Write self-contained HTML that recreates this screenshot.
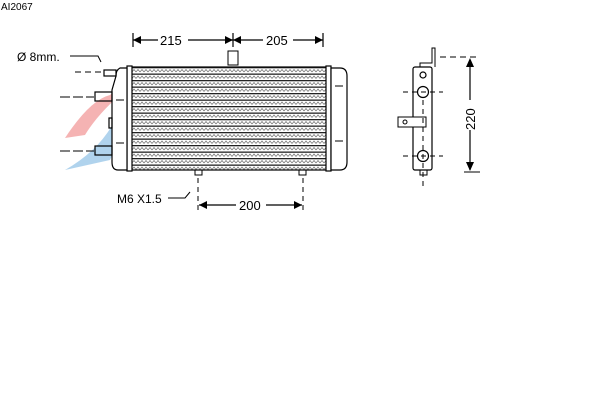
<!DOCTYPE html>
<html><head><style>body{margin:0;background:#fff}svg{display:block}text{font-family:"Liberation Sans",sans-serif;fill:#000}</style></head><body>
<svg width="600" height="400" viewBox="0 0 600 400" xmlns="http://www.w3.org/2000/svg">
<defs>
<pattern id="fin" x="0" y="67" width="4" height="6.5" patternUnits="userSpaceOnUse">
<rect width="4" height="6.5" fill="#fff"/>
<rect y="0" width="4" height="1.3" fill="#222"/>
<path d="M0 5 L2 2.5 L4 5" stroke="#777" stroke-width="0.8" fill="none"/>
</pattern>
</defs>
<text x="1" y="10" font-size="10">AI2067</text>
<!-- watermark -->
<path d="M65 138 Q90 100 110 95 Q120 85 135 82 Q100 110 85 135 Z" fill="#f2a0a0" opacity="0.8"/>
<path d="M65 170 Q100 150 115 120 Q125 100 140 90 Q125 130 110 160 Z" fill="#9cc8e8" opacity="0.8"/>
<g stroke="#000" fill="none" stroke-width="1.2">
<!-- dims top -->
<line x1="133" y1="40" x2="323" y2="40"/>
<line x1="133" y1="33" x2="133" y2="47"/><line x1="233" y1="33" x2="233" y2="47"/><line x1="323" y1="33" x2="323" y2="47"/>
<rect x="228" y="51" width="10" height="14" stroke-width="1"/>
<!-- core -->
<rect x="130" y="67" width="198" height="103" fill="url(#fin)"/>
<rect x="127" y="66" width="5" height="105" fill="#fff"/>
<rect x="326" y="66" width="5" height="105" fill="#fff"/>
<path d="M331 68 L340 68 Q347 68 347 76 L347 162 Q347 170 340 170 L331 170 Z" fill="#fff"/>
<path d="M127 68 L120 68 Q116 70 116 76 L112 90 L112 162 Q112 170 118 170 L127 170 Z" fill="#fff"/>
<rect x="104" y="70" width="12" height="6"/>
<rect x="95" y="92" width="17" height="9"/>
<rect x="95" y="146" width="17" height="9"/>
<rect x="109" y="118" width="3" height="10"/>
<rect x="195" y="170" width="7" height="5" stroke-width="1"/>
<rect x="299" y="170" width="7" height="5" stroke-width="1"/>
<!-- bottom dims -->
<line x1="199" y1="205" x2="302" y2="205"/>
<line x1="198" y1="178" x2="198" y2="212" stroke-dasharray="5,4" stroke-width="1"/>
<line x1="303" y1="178" x2="303" y2="212" stroke-dasharray="5,4" stroke-width="1"/>
<!-- left leaders -->
<line x1="75" y1="72" x2="103" y2="72" stroke-dasharray="6,4" stroke-width="1"/>
<line x1="60" y1="97" x2="94" y2="97" stroke-width="1" stroke-dasharray="10,3"/>
<line x1="60" y1="151" x2="94" y2="151" stroke-width="1" stroke-dasharray="10,3"/>
<path d="M70 56 L98 56 L101 62" stroke-width="1"/>
<path d="M168 198 L185 198 L190 192" stroke-width="1"/>
<line x1="116" y1="100" x2="124" y2="100" stroke-width="1"/>
<line x1="116" y1="143" x2="124" y2="143" stroke-width="1"/>
<line x1="335" y1="86" x2="343" y2="86" stroke-width="1"/>
<line x1="335" y1="141" x2="343" y2="141" stroke-width="1"/>
<!-- side view -->
<rect x="413" y="67" width="19" height="103" rx="2" fill="#fff"/>
<path d="M420 67 L420 63 L432 63 L432 48 L435 48 L435 67" stroke-width="1"/>
<circle cx="423" cy="75" r="3"/>
<circle cx="423" cy="92" r="5.5"/>
<circle cx="423" cy="156" r="5.5"/>
<rect x="398" y="117" width="28" height="10" fill="#fff" stroke-width="1"/>
<circle cx="405" cy="122" r="2" stroke-width="1"/>
<rect x="420" y="170" width="7" height="5" stroke-width="1"/>
<line x1="403" y1="92" x2="443" y2="92" stroke-dasharray="5,4" stroke-width="1"/>
<line x1="403" y1="156" x2="443" y2="156" stroke-dasharray="5,4" stroke-width="1"/>
<line x1="423" y1="100" x2="423" y2="190" stroke-dasharray="5,4" stroke-width="1"/>
<line x1="440" y1="57" x2="480" y2="57" stroke-dasharray="6,4" stroke-width="1"/>
<line x1="464" y1="172" x2="480" y2="172" stroke-width="1"/>
<line x1="470" y1="60" x2="470" y2="170"/>
</g>
<g fill="#000">
<path d="M133 40 l8 -4 v8z M233 40 l-8 -4 v8z M233 40 l8 -4 v8z M323 40 l-8 -4 v8z M199 205 l8 -4 v8z M302 205 l-8 -4 v8z M470 58 l-4 9 h8z M470 171 l-4 -9 h8z"/>
</g>
<rect x="158" y="33" width="30" height="14" fill="#fff"/><text x="160" y="45" font-size="13">215</text>
<rect x="263" y="33" width="30" height="14" fill="#fff"/><text x="266" y="45" font-size="13">205</text>
<rect x="236" y="198" width="30" height="14" fill="#fff"/><text x="239" y="210" font-size="13">200</text>
<text x="17" y="61" font-size="12">Ø 8mm.</text>
<text x="117" y="203" font-size="12">M6 X1.5</text>
<rect x="463" y="100" width="14" height="30" fill="#fff"/>
<text font-size="13" transform="translate(475,130) rotate(-90)">220</text>
</svg>
</body></html>
